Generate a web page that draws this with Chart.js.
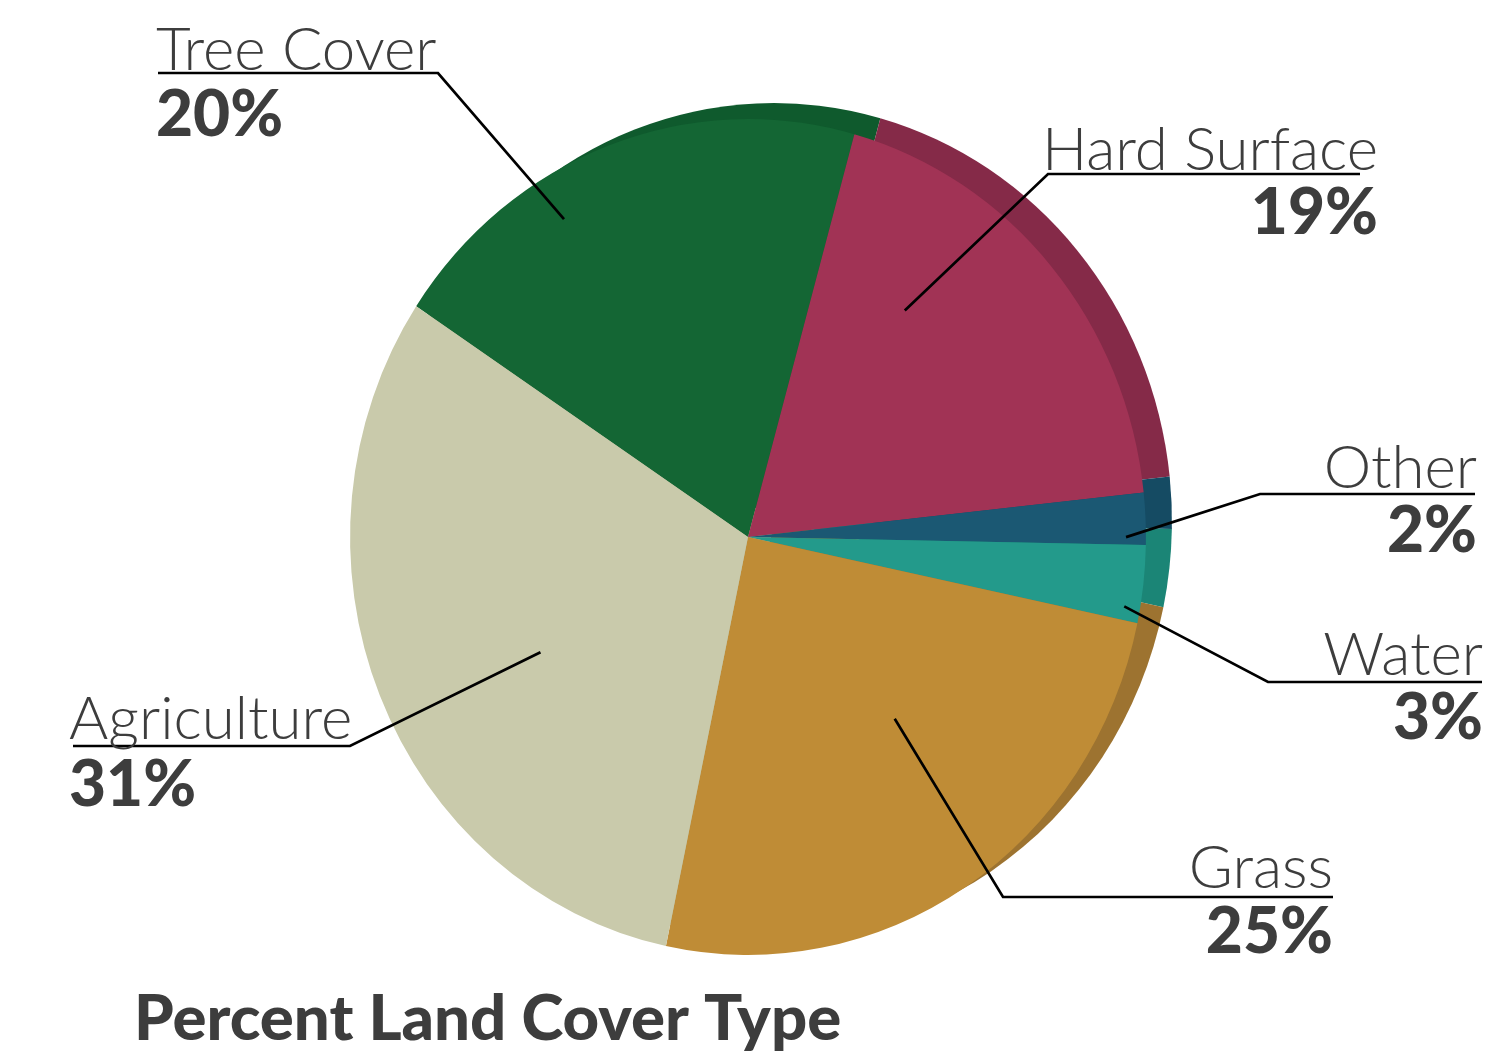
<!DOCTYPE html>
<html>
<head>
<meta charset="utf-8">
<script src="https://cdn.jsdelivr.net/npm/chart.js@4"></script>
<style>
  html, body { margin: 0; padding: 0; background: #fff; }
  #wrap { width: 1487px; height: 1056px; }
</style>
</head>
<body>
<div id="wrap"><canvas id="landCoverChart"></canvas></div>
<script>
// data
var categories = ["Tree Cover", "Hard Surface", "Other", "Water", "Grass", "Agriculture"];
var percents = [20, 19, 2, 3, 25, 31];
var pctLabels = ["20%", "19%", "2%", "3%", "25%", "31%"];

// colours: face and darker rim
var faceColors = ["#146634", "#a13355", "#1b5873", "#239a8b", "#bf8c36", "#c9caab"];
var rimColors = ["#0f5a2d", "#852a48", "#154b63", "#1b8576", "#9d7330", "#b3b496"];

// label layout (screen px): where text sits, leader elbow, anchor inside slice
var labelLayout = [
  { side: "left", textX: 156, nameY: 70, pctY: 136, lineY: 73, lineEnd: 158, elbowX: 438, f: 0.35, k: 0.89 },
  { side: "right", textX: 1378, nameY: 170, pctY: 234, lineY: 174, lineEnd: 1360, elbowX: 1048, f: 0.3, k: 0.67 },
  { side: "right", textX: 1477, nameY: 488, pctY: 552, lineY: 494, lineEnd: 1475, elbowX: 1260, f: 0.85, k: 0.95 },
  { side: "right", textX: 1483, nameY: 675, pctY: 739, lineY: 682, lineEnd: 1482, elbowX: 1268, f: 0.82, k: 0.96 },
  { side: "right", textX: 1333, nameY: 888, pctY: 953, lineY: 897, lineEnd: 1333, elbowX: 1003, f: 0.42, k: 0.57 },
  { side: "left", textX: 69, nameY: 739, pctY: 806, lineY: 746, lineEnd: 73, elbowX: 350, f: 0.45, k: 0.59 }
];

var SX = 0.952;       // squash the pie a little horizontally (tilted look)
var RIM_DX = 26, RIM_DY = -16;

function squash(ctx, cx, cy) {
  ctx.translate(cx, cy);
  ctx.scale(SX, 1);
  ctx.translate(-cx, -cy);
}

var pie3d = {
  id: "pie3d",
  beforeDatasetsDraw: function (chart) {
    var ctx = chart.ctx;
    var arcs = chart.getDatasetMeta(0).data;
    var cx = arcs[0].x, cy = arcs[0].y;
    ctx.save();
    ctx.translate(RIM_DX, RIM_DY);
    squash(ctx, cx, cy);
    arcs.forEach(function (a, i) {
      var p = a.getProps(["x", "y", "startAngle", "endAngle", "outerRadius"], true);
      ctx.beginPath();
      ctx.moveTo(p.x, p.y);
      ctx.arc(p.x, p.y, p.outerRadius, p.startAngle, p.endAngle);
      ctx.closePath();
      ctx.fillStyle = rimColors[i];
      ctx.fill();
    });
    ctx.restore();
    ctx.save();
    squash(ctx, cx, cy);
  },
  afterDatasetsDraw: function (chart) {
    var ctx = chart.ctx;
    ctx.restore();
    var arcs = chart.getDatasetMeta(0).data;

    ctx.save();
    ctx.strokeStyle = "#000";
    ctx.lineWidth = 2.7;
    ctx.lineJoin = "miter";
    ctx.fillStyle = "#3d3d3d";
    arcs.forEach(function (a, i) {
      var p = a.getProps(["x", "y", "startAngle", "endAngle", "outerRadius"], true);
      var L = labelLayout[i];
      var ang = p.startAngle + L.f * (p.endAngle - p.startAngle);
      var ax = p.x + Math.cos(ang) * p.outerRadius * L.k * SX;
      var ay = p.y + Math.sin(ang) * p.outerRadius * L.k;

      ctx.beginPath();
      ctx.moveTo(ax, ay);
      ctx.lineTo(L.elbowX, L.lineY);
      ctx.lineTo(L.lineEnd, L.lineY);
      ctx.stroke();

      ctx.textAlign = L.side === "left" ? "left" : "right";
      ctx.textBaseline = "alphabetic";
      ctx.font = "300 60px Lato";
      ctx.fillText(categories[i], L.textX, L.nameY);
      ctx.font = "900 64px Lato";
      ctx.fillText(pctLabels[i], L.textX, L.pctY);
    });

    ctx.textAlign = "left";
    ctx.font = "900 63.5px Lato";
    ctx.fillText("Percent Land Cover Type", 134, 1040);
    ctx.restore();
  }
};

var ctx = document.getElementById("landCoverChart").getContext("2d");
var landCoverChart = new Chart(ctx, {
  type: "pie",
  data: {
    labels: categories,
    datasets: [
      {
        data: percents,
        backgroundColor: faceColors,
        borderWidth: 0,
        hoverOffset: 0
      }
    ]
  },
  options: {
    responsive: true,
    maintainAspectRatio: false,
    animation: false,
    rotation: 303.5,
    layout: {
      padding: { left: 330, right: 321, top: 119, bottom: 101 }
    },
    plugins: {
      legend: { display: false },
      tooltip: { enabled: false },
      title: { display: false }
    }
  },
  plugins: [pie3d]
});
</script>
</body>
</html>
